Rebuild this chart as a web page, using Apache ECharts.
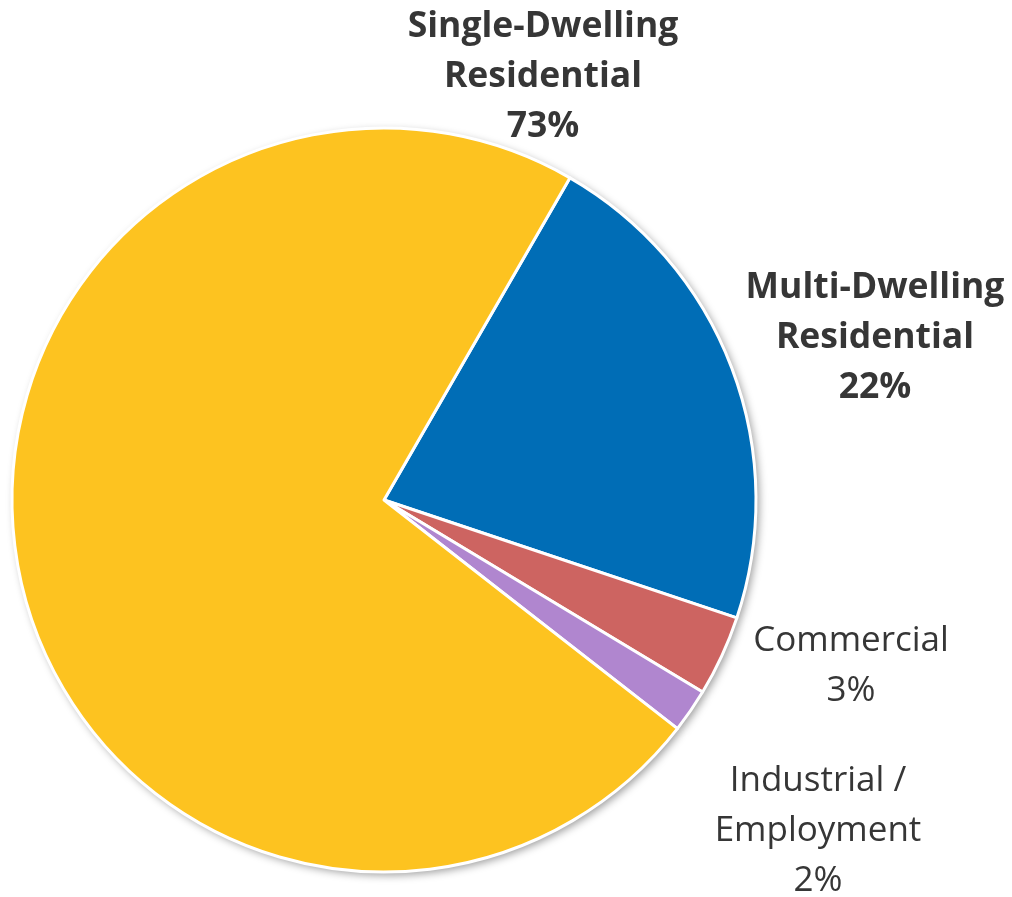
<!DOCTYPE html>
<html><head><meta charset="utf-8">
<script src="https://cdn.jsdelivr.net/npm/echarts@6/dist/echarts.min.js"></script>
<style>html,body{margin:0;padding:0;background:#fff}#c{width:1012px;height:897px}</style>
</head><body><div id="c"></div>
<script>
var categories = ['Multi-Dwelling\nResidential', 'Commercial', 'Industrial /\nEmployment', 'Single-Dwelling\nResidential'];
var values = [21.8, 3.5, 1.9, 72.8];
var pctLabels = ['22%', '3%', '2%', '73%'];
var colors = ['#006DB6', '#CD6461', '#B086CF', '#FDC320'];
var boldFlags = [true, false, false, true];
var labelPos = [[875, 338], [851, 666], [818, 831], [543, 77]];

var chart = echarts.init(document.getElementById('c'));
var pieData = categories.map(function (n, i) {
  return {
    name: n, value: values[i],
    itemStyle: { color: colors[i] },
    label: { fontWeight: boldFlags[i] ? 'bold' : 'normal', fontSize: boldFlags[i] ? 35.5 : 35 }
  };
});
chart.setOption({
  animation: false,
  series: [{
    type: 'pie',
    silent: true,
    center: [384, 500],
    radius: [0, 372],
    startAngle: 60,
    avoidLabelOverlap: false,
    data: pieData,
    itemStyle: { borderWidth: 0, shadowBlur: 8, shadowColor: 'rgba(0,0,0,0.4)', shadowOffsetX: 3, shadowOffsetY: 3 },
    label: { show: false },
    labelLine: { show: false }
  }, {
    type: 'pie',
    center: [384, 500],
    radius: [0, 372],
    startAngle: 60,
    avoidLabelOverlap: false,
    data: pieData,
    itemStyle: { borderColor: '#fff', borderWidth: 3 },
    label: {
      show: true, position: 'outside', overflow: 'none',
      formatter: function (p) { return p.name + '\n' + pctLabels[p.dataIndex]; },
      fontFamily: 'Open Sans', lineHeight: 50, color: '#363636', align: 'center'
    },
    labelLine: { show: false },
    labelLayout: function (p) {
      var q = labelPos[p.dataIndex];
      return { x: q[0], y: q[1], align: 'center', verticalAlign: 'middle', hideOverlap: false, moveOverlap: null };
    }
  }]
});
</script></body></html>
